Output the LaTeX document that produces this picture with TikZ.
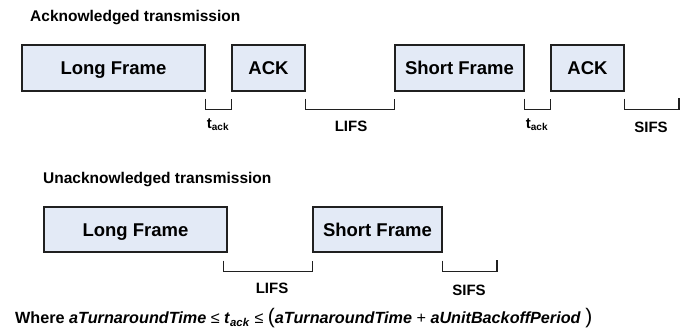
\documentclass[tikz,border=0pt]{standalone}
\usepackage{fontspec}
\setmainfont{Liberation Sans}
\usetikzlibrary{calc}
\definecolor{boxfill}{HTML}{E3EAF6}
\definecolor{boxline}{HTML}{202020}
\begin{document}
\begin{tikzpicture}[x=1pt,y=-1pt,
  frame/.style={draw=boxline, fill=boxfill, line width=1.3pt, minimum height=46pt, inner sep=0pt,
    text height=13.2pt, text depth=0pt,
    font=\fontsize{18.5}{20}\selectfont\bfseries},
  brk/.style={draw=boxline, line width=1.3pt},
  lbl/.style={font=\fontsize{15}{17}\selectfont\bfseries, inner sep=0pt},
  ttl/.style={font=\fontsize{15.5}{17}\selectfont\bfseries, inner sep=0pt, anchor=west}]
\useasboundingbox (0,0) rectangle (689,329);
% titles
\node[ttl] (t1) at (30,18) {Acknowledged transmission};
\node[ttl] (t2) at (43,180) {Unacknowledged transmission};
% top row
\node[frame, minimum width=183pt] (lf1) at (113.5,68) {Long Frame};
\node[frame, minimum width=73pt] (ack1) at (268.5,68) {ACK};
\node[frame, minimum width=129pt] (sf1) at (459.5,68) {Short Frame};
\node[frame, minimum width=73pt] (ack2) at (587.5,68) {ACK};
\coordinate (sifsend1) at (679,98);
\draw[brk] ([yshift=-7pt]lf1.south east) -- ++(0,11) -| ([yshift=-7pt]ack1.south west);
\draw[brk] ([yshift=-7pt]ack1.south east) -- ++(0,11) -| ([yshift=-7pt]sf1.south west);
\draw[brk] ([yshift=-7pt]sf1.south east) -- ++(0,11) -| ([yshift=-7pt]ack2.south west);
\draw[brk] ([yshift=-7pt]ack2.south east) -- ++(0,11) -| (sifsend1);
\node[lbl] (ta1) at (218,125) {t\textsubscript{\fontsize{10}{11}\selectfont ack}};
\node[lbl] (lifs1) at (351,126) {LIFS};
\node[lbl] (ta2) at (537,125) {t\textsubscript{\fontsize{10}{11}\selectfont ack}};
\node[lbl] (sifs1) at (651,127) {SIFS};
% bottom row
\node[frame, minimum width=183pt, minimum height=45pt] (lf2) at (135.5,229.5) {Long Frame};
\node[frame, minimum width=129pt, minimum height=45pt] (sf2) at (377.5,229.5) {Short Frame};
\coordinate (sifsend2) at (497,260);
\draw[brk] ([xshift=-4pt,yshift=-8pt]lf2.south east) -- ++(0,11) -| ([yshift=-8pt]sf2.south west);
\draw[brk] ([yshift=-8pt]sf2.south east) -- ++(0,11) -| (sifsend2);
\node[lbl] (lifs2) at (272,288) {LIFS};
\node[lbl] (sifs2) at (469,290) {SIFS};
% formula
\node[anchor=base west, inner sep=0pt, font=\fontsize{16.2}{18}\selectfont] (where) at (15,323.5)
  {\textbf{Where} \textbf{\textit{aTurnaroundTime}} ≤ \textbf{\textit{t}}\textsubscript{\textbf{\textit{ack}}} ≤ {\fontsize{21}{22}\selectfont(}\textbf{\textit{aTurnaroundTime}} + \textbf{\textit{aUnitBackoffPeriod}}\ {\fontsize{21}{22}\selectfont)}};
\end{tikzpicture}
\end{document}
